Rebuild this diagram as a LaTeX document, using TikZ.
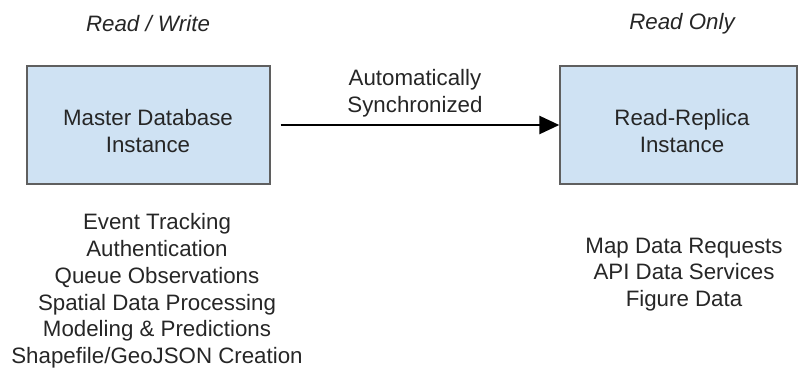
\documentclass[tikz,border=0pt]{standalone}
\usepackage{fontspec}
\setmainfont{Liberation Sans}
\usetikzlibrary{arrows.meta}
\definecolor{boxfill}{HTML}{CFE2F3}
\definecolor{boxline}{HTML}{5F5F5F}
\definecolor{txt}{HTML}{262626}
\begin{document}
\begin{tikzpicture}[x=1pt,y=-1pt,
  every node/.style={text=txt,font=\fontsize{22.3}{26.8}\selectfont,inner sep=0pt,align=center},
  dbbox/.style={draw=boxline,fill=boxfill,line width=1.4pt,minimum height=118pt},
  hdr/.style={font=\fontsize{22.3}{26.8}\selectfont\itshape},
  conn/.style={line width=2.6pt,-{Triangle[length=20pt,width=18pt]}}]
\useasboundingbox (0,0) rectangle (798,367);
\node[dbbox,minimum width=243pt] (master) at (148.5,125) {};
\node (mastertxt) at (148,131) {Master Database\\Instance};
\node[dbbox,minimum width=237pt] (replica) at (678.5,125) {};
\node (replicatxt) at (682,131) {Read-Replica\\Instance};
\node[hdr] (rw) at (148,24) {Read / Write};
\node[hdr] (ro) at (682,24) {Read Only};
\draw[conn,shorten <=10pt] (master.east) -- (replica.west);
\node (sync) at (415,93) {Automatically\\Synchronized};
\node (leftlist) at (157,291) {Event Tracking\\Authentication\\Queue Observations\\Spatial Data Processing\\Modeling \& Predictions\\Shapefile/GeoJSON Creation};
\node (rightlist) at (684,274.5) {Map Data Requests\\API Data Services\\Figure Data};
\end{tikzpicture}
\end{document}
